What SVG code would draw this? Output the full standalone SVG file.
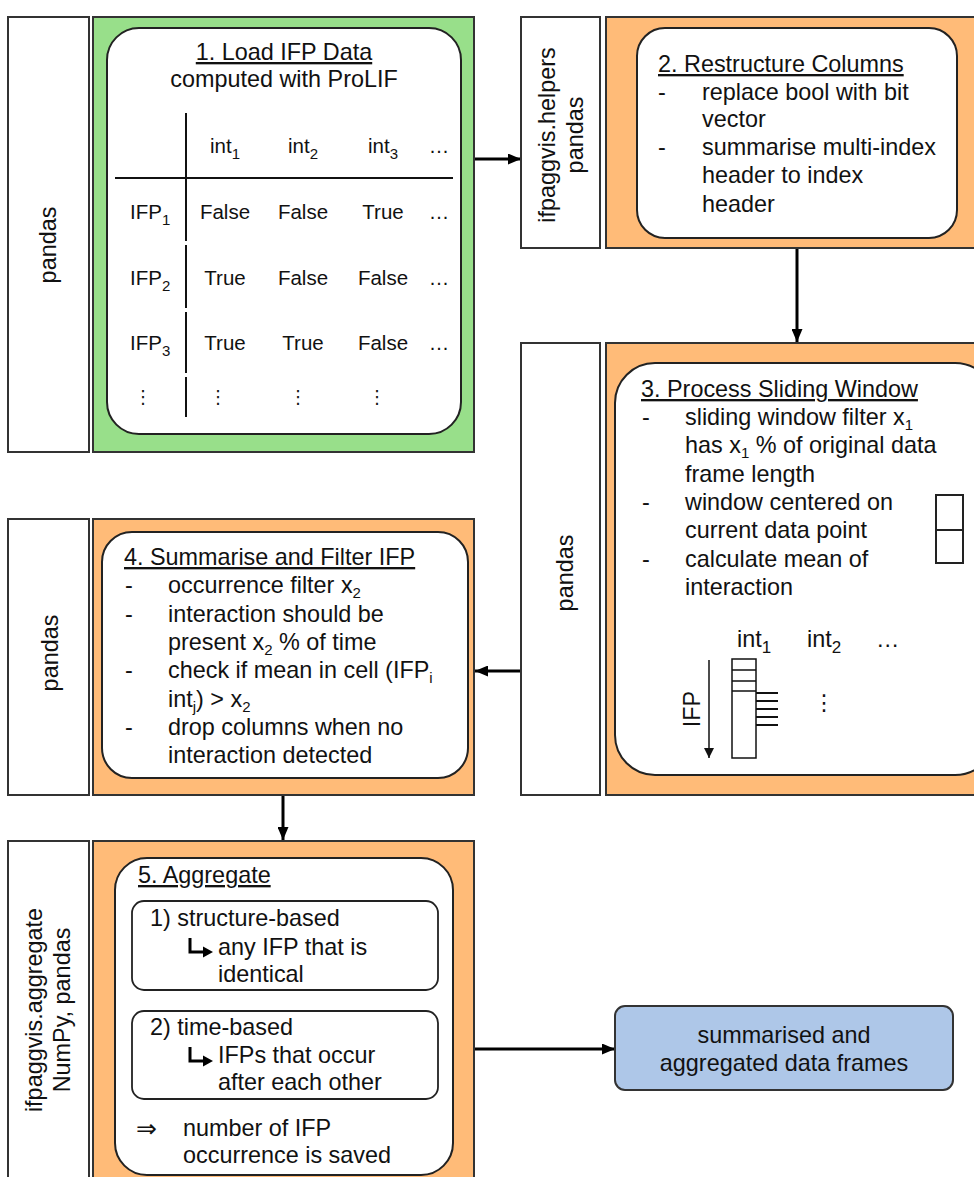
<svg xmlns="http://www.w3.org/2000/svg" width="974" height="1177" viewBox="0 0 974 1177">
<defs>
<style>
.lbl{fill:#fff;stroke:#333;stroke-width:2}
.grn{fill:#98df8a;stroke:#333;stroke-width:2}
.org{fill:#ffbb78;stroke:#333;stroke-width:2}
.blu{fill:#aec7e8;stroke:#333;stroke-width:2}
.inner{fill:#fff;stroke:#222;stroke-width:2}
.sub{fill:#fff;stroke:#222;stroke-width:1.8}
.t{font-family:"Liberation Sans",Arial,sans-serif;font-size:23.4px;fill:#111}
.tt{font-family:"Liberation Sans",Arial,sans-serif;font-size:20.5px;fill:#111}
.dj{font-family:"DejaVu Sans",sans-serif;fill:#111}
.u{text-decoration:underline}
.mid{text-anchor:middle}
.conn{stroke:#000;stroke-width:3;fill:none;marker-end:url(#ah)}
.thin{stroke:#111;stroke-width:2;fill:none}
</style>
<marker id="ah" markerUnits="userSpaceOnUse" markerWidth="13" markerHeight="11" refX="13" refY="5.5" orient="auto">
<path d="M0,0 L13,5.5 L0,11 z" fill="#000"/>
</marker>
<marker id="ahs" markerUnits="userSpaceOnUse" markerWidth="10" markerHeight="10" refX="10" refY="5" orient="auto">
<path d="M0,0 L10,5 L0,10 z" fill="#111"/>
</marker>
</defs>
<rect width="974" height="1177" fill="#fff"/>

<g id="connectors">
<path class="conn" d="M474,159 L521,159"/>
<path class="conn" d="M797,248 L797,342"/>
<path class="conn" d="M521,671 L475,671"/>
<path class="conn" d="M283,795 L283,840"/>
<path class="conn" d="M474,1049 L615,1049"/>
</g>

<g id="lib1">
<rect class="lbl" x="8" y="17" width="81" height="435"/>
<text class="t mid" transform="translate(48,245) rotate(-90)" dy="8">pandas</text>
</g>

<g id="step1">
<rect class="grn" x="93" y="17" width="381" height="435"/>
<rect class="inner" x="107" y="28" width="354" height="406" rx="32"/>
<text class="t mid u" x="284" y="60">1. Load IFP Data</text>
<text class="t mid" x="284" y="87">computed with ProLIF</text>
<path class="thin" d="M115,178 L453,178 M186,113 L186,241 M186,245 L186,308 M186,312 L186,373 M186,377 L186,417"/>
<text class="tt mid" x="225" y="153">int<tspan font-size="15" dy="6">1</tspan></text>
<text class="tt mid" x="303" y="153">int<tspan font-size="15" dy="6">2</tspan></text>
<text class="tt mid" x="383" y="153">int<tspan font-size="15" dy="6">3</tspan></text>
<text class="tt mid" x="439" y="153">…</text>
<text class="tt" x="130" y="219">IFP<tspan font-size="15" dy="6">1</tspan></text>
<text class="tt mid" x="225" y="219">False</text>
<text class="tt mid" x="303" y="219">False</text>
<text class="tt mid" x="383" y="219">True</text>
<text class="tt mid" x="439" y="219">…</text>
<text class="tt" x="130" y="285">IFP<tspan font-size="15" dy="6">2</tspan></text>
<text class="tt mid" x="225" y="285">True</text>
<text class="tt mid" x="303" y="285">False</text>
<text class="tt mid" x="383" y="285">False</text>
<text class="tt mid" x="439" y="285">…</text>
<text class="tt" x="130" y="350">IFP<tspan font-size="15" dy="6">3</tspan></text>
<text class="tt mid" x="225" y="350">True</text>
<text class="tt mid" x="303" y="350">True</text>
<text class="tt mid" x="383" y="350">False</text>
<text class="tt mid" x="439" y="350">…</text>
<text class="dj mid" font-size="18" x="143" y="403">⋮</text>
<text class="dj mid" font-size="18" x="218" y="403">⋮</text>
<text class="dj mid" font-size="18" x="298" y="403">⋮</text>
<text class="dj mid" font-size="18" x="377" y="403">⋮</text>
</g>

<g id="lib2">
<rect class="lbl" x="521" y="17" width="79" height="231"/>
<text class="t mid" transform="translate(561,135) rotate(-90)"><tspan x="0" y="-6">ifpaggvis.helpers</tspan><tspan x="0" y="22">pandas</tspan></text>
</g>

<g id="step2">
<rect class="org" x="606" y="17" width="380" height="231"/>
<rect class="inner" x="637" y="28" width="320" height="210" rx="28"/>
<text class="t u" x="658" y="72">2. Restructure Columns</text>
<text class="t" x="658" y="100">-</text>
<text class="t" x="702" y="100">replace bool with bit</text>
<text class="t" x="702" y="127">vector</text>
<text class="t" x="658" y="155">-</text>
<text class="t" x="702" y="155">summarise multi-index</text>
<text class="t" x="702" y="183">header to index</text>
<text class="t" x="702" y="212">header</text>
</g>

<g id="lib3">
<rect class="lbl" x="521" y="343" width="79" height="452"/>
<text class="t mid" transform="translate(565,573) rotate(-90)" dy="8">pandas</text>
</g>

<g id="step3">
<rect class="org" x="606" y="343" width="380" height="452"/>
<rect class="inner" x="615" y="363" width="380" height="412" rx="40"/>
<text class="t u" x="641" y="397">3. Process Sliding Window</text>
<text class="t" x="642" y="425">-</text>
<text class="t" x="685" y="425">sliding window filter x<tspan font-size="15" dy="5">1</tspan></text>
<text class="t" x="685" y="453">has x<tspan font-size="15" dy="5">1</tspan><tspan dy="-5"> % of original data</tspan></text>
<text class="t" x="685" y="482">frame length</text>
<text class="t" x="642" y="510">-</text>
<text class="t" x="685" y="510">window centered on</text>
<text class="t" x="685" y="538">current data point</text>
<text class="t" x="642" y="567">-</text>
<text class="t" x="685" y="567">calculate mean of</text>
<text class="t" x="685" y="595">interaction</text>
<rect x="936" y="495" width="27" height="68" fill="#fff" stroke="#222" stroke-width="2"/>
<path d="M936,530 L963,530" stroke="#222" stroke-width="2"/>
<text class="t" font-size="26" x="737" y="647">int<tspan font-size="17" dy="6">1</tspan></text>
<text class="t" font-size="26" x="807" y="647">int<tspan font-size="17" dy="6">2</tspan></text>
<text class="t" font-size="26" x="876" y="647">…</text>
<path d="M709,660 L709,758" stroke="#111" stroke-width="1.5" fill="none" marker-end="url(#ahs)"/>
<text class="t mid" font-size="24.4" transform="translate(700,709) rotate(-90)">IFP</text>
<rect x="732" y="659" width="24" height="99" fill="#fff" stroke="#111" stroke-width="1.5"/>
<path d="M732,670 L756,670 M732,681 L756,681 M732,691 L756,691" stroke="#111" stroke-width="1.5"/>
<path d="M756,693 L778,693 M756,701 L778,701 M756,709 L778,709 M756,717 L778,717 M756,725 L778,725" stroke="#111" stroke-width="2.2"/>
<text class="dj mid" font-size="22" x="824" y="710">⋮</text>
</g>

<g id="lib4">
<rect class="lbl" x="8" y="519" width="81" height="276"/>
<text class="t mid" transform="translate(50,653) rotate(-90)" dy="8">pandas</text>
</g>

<g id="step4">
<rect class="org" x="93" y="519" width="381" height="276"/>
<rect class="inner" x="102" y="532" width="366" height="246" rx="30"/>
<text class="t u" x="124" y="565">4. Summarise and Filter IFP</text>
<text class="t" x="125" y="593">-</text>
<text class="t" x="168" y="593">occurrence filter x<tspan font-size="15" dy="5">2</tspan></text>
<text class="t" x="125" y="622">-</text>
<text class="t" x="168" y="622">interaction should be</text>
<text class="t" x="168" y="650">present x<tspan font-size="15" dy="5">2</tspan><tspan dy="-5"> % of time</tspan></text>
<text class="t" x="125" y="678">-</text>
<text class="t" x="168" y="678">check if mean in cell (IFP<tspan font-size="15" dy="5">i</tspan></text>
<text class="t" x="168" y="707">int<tspan font-size="15" dy="5">j</tspan><tspan dy="-5">) &gt; x</tspan><tspan font-size="15" dy="5">2</tspan></text>
<text class="t" x="125" y="735">-</text>
<text class="t" x="168" y="735">drop columns when no</text>
<text class="t" x="168" y="763">interaction detected</text>
</g>

<g id="lib5">
<rect class="lbl" x="8" y="841" width="81" height="345"/>
<text class="t mid" transform="translate(48,1010) rotate(-90)"><tspan x="0" y="-6">ifpaggvis.aggregate</tspan><tspan x="0" y="22">NumPy, pandas</tspan></text>
</g>

<g id="step5">
<rect class="org" x="93" y="841" width="381" height="345"/>
<rect class="inner" x="115" y="858" width="338" height="317" rx="32"/>
<text class="t u" x="138" y="883">5. Aggregate</text>
<rect class="sub" x="132" y="901" width="306" height="89" rx="12"/>
<text class="t" x="150" y="926">1) structure-based</text>
<path d="M190,938 L190,952 L205,952" stroke="#000" stroke-width="3" fill="none"/>
<path d="M203,946.5 L213,952 L203,957.5 z" fill="#000"/>
<text class="t" x="218" y="955">any IFP that is</text>
<text class="t" x="218" y="982">identical</text>
<rect class="sub" x="132" y="1011" width="306" height="88" rx="12"/>
<text class="t" x="150" y="1035">2) time-based</text>
<path d="M190,1047 L190,1061 L205,1061" stroke="#000" stroke-width="3" fill="none"/>
<path d="M203,1055.5 L213,1061 L203,1066.5 z" fill="#000"/>
<text class="t" x="218" y="1063">IFPs that occur</text>
<text class="t" x="218" y="1090">after each other</text>
<text class="dj" font-size="25" x="136" y="1137">⇒</text>
<text class="t" x="183" y="1136">number of IFP</text>
<text class="t" x="183" y="1163">occurrence is saved</text>
</g>

<g id="result">
<rect class="blu" x="615" y="1006" width="338" height="84" rx="10"/>
<text class="t mid" x="784" y="1043">summarised and</text>
<text class="t mid" x="784" y="1071">aggregated data frames</text>
</g>
</svg>
